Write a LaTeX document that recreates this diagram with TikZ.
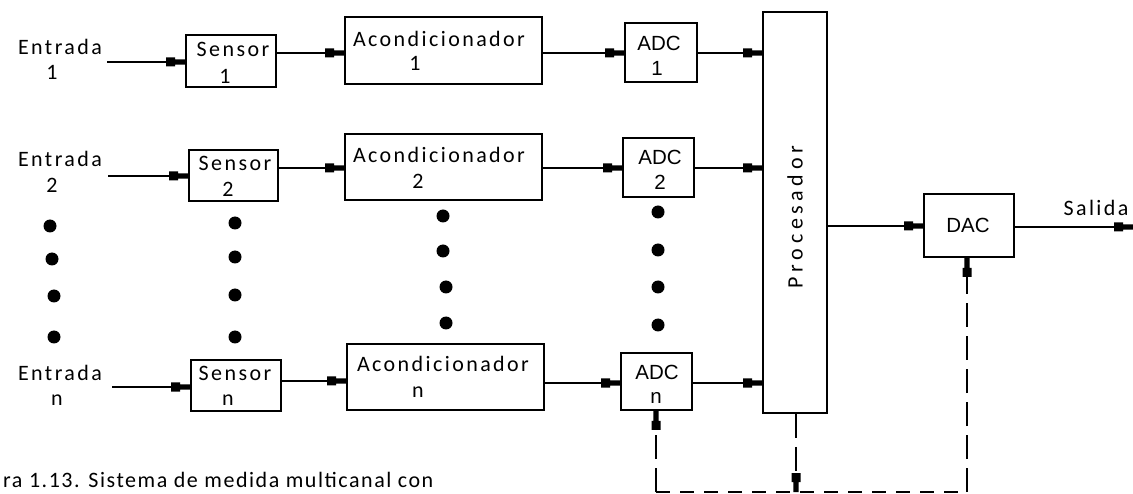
\documentclass[tikz,border=0pt]{standalone}
\usepackage{fontspec}
\newfontfamily\cf{Carlito}[LetterSpace=11]
\newfontfamily\pf{Carlito}[LetterSpace=21]
\newfontfamily\capf{Carlito}[LetterSpace=7]
\newfontfamily\af{Liberation Sans}
\usetikzlibrary{arrows.meta}
\pgfdeclarearrow{
  name = Plug,
  setup code = {
    \pgfarrowssettipend{0pt}
    \pgfarrowssetlineend{-15pt}
    \pgfarrowssetbackend{-19pt}
    \pgfarrowsupperhullpoint{-19pt}{4.5pt}
    \pgfarrowsupperhullpoint{0pt}{2.5pt}
  },
  drawing code = {
    \pgfpathrectanglecorners{\pgfpoint{-19pt}{-4.5pt}}{\pgfpoint{-10pt}{4.5pt}}
    \pgfpathrectanglecorners{\pgfpoint{-10.5pt}{-2.6pt}}{\pgfpoint{0pt}{2.6pt}}
    \pgfusepathqfill
  },
  defaults = {}
}
\begin{document}
\begin{tikzpicture}[x=1pt,y=-1pt,
 blk/.style={draw,line width=1.7pt,inner sep=0pt},
 txt/.style={font=\cf\fontsize{22}{26}\selectfont,inner sep=0pt},
 atxt/.style={font=\af\fontsize{20.5}{24}\selectfont,inner sep=0pt},
 conn/.style={line width=1.3pt,-{Plug}},
 dconn/.style={conn,dash pattern=on 24pt off 9pt},
 dline/.style={line width=1.3pt,dash pattern=on 14pt off 10pt},
 dot/.style={circle,fill,inner sep=0pt,minimum size=13pt}]
\useasboundingbox (0,0) rectangle (1133,494);

% boxes
\node[blk,minimum width=90pt,minimum height=52pt] (s1) at (231,61) {};
\node[blk,minimum width=197pt,minimum height=67pt] (a1) at (443.5,50.5) {};
\node[blk,minimum width=72pt,minimum height=59pt] (adc1) at (661,52.5) {};
\node[blk,minimum width=89pt,minimum height=51pt] (s2) at (233.5,175.5) {};
\node[blk,minimum width=197pt,minimum height=66pt] (a2) at (443.5,167) {};
\node[blk,minimum width=71pt,minimum height=59pt] (adc2) at (658.5,167.5) {};
\node[blk,minimum width=90pt,minimum height=51pt] (sn) at (236,385.5) {};
\node[blk,minimum width=197pt,minimum height=66pt] (an) at (445.5,377) {};
\node[blk,minimum width=71pt,minimum height=57pt] (adcn) at (656.5,381.5) {};
\node[blk,minimum width=64pt,minimum height=401pt] (proc) at (795,212.5) {};
\node[blk,minimum width=90pt,minimum height=63pt] (dac) at (969,225.5) {};

% texts
\node[txt] (e1a) at (60,47) {Entrada};
\node[txt] (e1b) at (52,72) {1};
\node[txt] (e2a) at (60,159) {Entrada};
\node[txt] (e2b) at (52,185) {2};
\node[txt] (e3a) at (60,373) {Entrada};
\node[txt] (e3b) at (57,400) {n};
\node[txt] (s1a) at (233,49) {Sensor};
\node[txt] (s1b) at (225,76) {1};
\node[txt] (s2a) at (235,163) {Sensor};
\node[txt] (s2b) at (228,189) {2};
\node[txt] (sna) at (235,373) {Sensor};
\node[txt] (snb) at (228,400) {n};
\node[txt] (a1a) at (439,39) {Acondicionador};
\node[txt] (a1b) at (415,63) {1};
\node[txt] (a2a) at (439,155) {Acondicionador};
\node[txt] (a2b) at (418,181) {2};
\node[txt] (ana) at (443,364) {Acondicionador};
\node[txt] (anb) at (418,392) {n};
\node[atxt] (d1a) at (659,43) {ADC};
\node[atxt] (d1b) at (657,68) {1};
\node[atxt] (d2a) at (660,157) {ADC};
\node[atxt] (d2b) at (660,182) {2};
\node[atxt] (dna) at (657,372) {ADC};
\node[atxt] (dnb) at (656,398) {n};
\node[atxt] (dact) at (968,225) {DAC};
\node[inner sep=0pt,font=\pf\fontsize{22}{26}\selectfont,rotate=90] (ptxt) at (795,217) {Procesador};
\node[txt] (sal) at (1096,208) {Salida};
\node[inner sep=0pt,anchor=west,font=\capf\fontsize{22}{26}\selectfont] (cap) at (3,480) {ra 1.13. Sistema de medida multicanal con};

% dots
\foreach \n/\x/\y in {c1a/50/226,c1b/52/259,c1c/54/296,c1d/54/337,
  c2a/235/223,c2b/235/257,c2c/235/295,c2d/235/337,
  c3a/443/216,c3b/443/251,c3c/446/287,c3d/446/323,
  c4a/658/212,c4b/658/250,c4c/658/287,c4d/658/325}
  \node[dot] (\n) at (\x,\y) {};

% coordinates
\coordinate (i1) at (107,62);
\coordinate (i2) at (108,176);
\coordinate (i3) at (112,387);
\coordinate (out) at (1133,227);
\coordinate (b1) at (656,492);
\coordinate (b2) at (796,492);
\coordinate (b3) at (967,492);

% row 1
\draw[conn] (i1) -- (s1.west |- i1);
\draw[conn] (s1.east |- 0,53) -- (a1.west |- 0,53);
\draw[conn] (a1.east |- 0,53) -- (adc1.west |- 0,53);
\draw[conn] (adc1.east |- 0,53) -- (proc.west |- 0,53);
% row 2
\draw[conn] (i2) -- (s2.west |- i2);
\draw[conn] (s2.east |- 0,168) -- (a2.west |- 0,168);
\draw[conn] (a2.east |- 0,168) -- (adc2.west |- 0,168);
\draw[conn] (adc2.east |- 0,168) -- (proc.west |- 0,168);
% row n
\draw[conn] (i3) -- (sn.west |- i3);
\draw[conn] (sn.east |- 0,381) -- (an.west |- 0,381);
\draw[conn] (an.east |- 0,383) -- (adcn.west |- 0,383);
\draw[conn] (adcn.east |- 0,383) -- (proc.west |- 0,383);
% output
\draw[conn] (proc.east |- 0,226) -- (dac.west |- 0,226);
\draw[conn] (dac.east |- out) -- (out);
% control bus
\draw[dconn] (b2 |- proc.south) -- (b2);
\draw[dline] (b1) -- (b3);
\draw[dconn] (b1) -- (b1 |- adcn.south);
\draw[dconn] (b3) -- (b3 |- dac.south);
\end{tikzpicture}
\end{document}
